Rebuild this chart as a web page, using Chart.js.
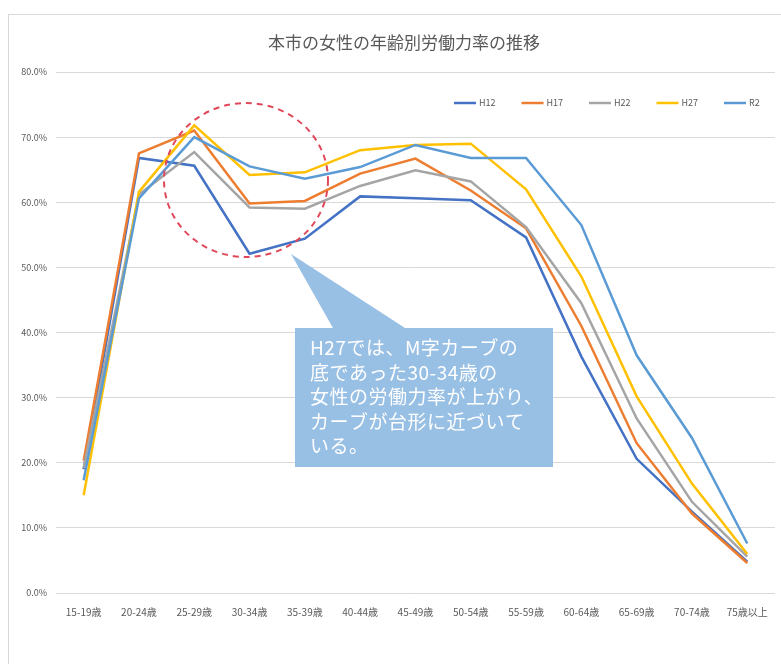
<!DOCTYPE html>
<html>
<head>
<meta charset="utf-8">
<script src="https://cdn.jsdelivr.net/npm/chart.js@4/dist/chart.umd.min.js"></script>
<style>
  html, body { margin: 0; padding: 0; background: #ffffff; }
  #wrap { width: 781px; height: 664px; }
</style>
</head>
<body>
<div id="wrap"><canvas id="chart" width="781" height="664"></canvas></div>
<script>
// 年齢階級
const ageGroups = ['15-19歳', '20-24歳', '25-29歳', '30-34歳', '35-39歳', '40-44歳', '45-49歳',
                   '50-54歳', '55-59歳', '60-64歳', '65-69歳', '70-74歳', '75歳以上'];

// 年次別の女性労働力率（%）
const seriesNames = ['H12', 'H17', 'H22', 'H27', 'R2'];
const rateH12 = [19.0, 66.8, 65.6, 52.1, 54.4, 60.9, 60.6, 60.3, 54.6, 36.3, 20.6, 12.5, 4.8];
const rateH17 = [20.3, 67.5, 71.0, 59.8, 60.2, 64.4, 66.7, 61.8, 56.0, 41.0, 23.0, 12.2, 4.6];
const rateH22 = [19.2, 61.2, 67.7, 59.2, 59.0, 62.5, 64.9, 63.2, 56.2, 44.5, 26.8, 14.0, 5.6];
const rateH27 = [15.0, 61.6, 71.8, 64.2, 64.6, 68.0, 68.8, 69.0, 62.0, 48.6, 30.2, 16.8, 6.0];
const rateR2  = [17.3, 60.6, 70.0, 65.5, 63.6, 65.4, 68.8, 66.8, 66.8, 56.5, 36.5, 23.8, 7.6];

// 縦軸目盛
const yMin = 0;
const yMax = 80;
const yStep = 10;

const chartTitle = '本市の女性の年齢別労働力率の推移';
const noteLines = ['H27では、M字カーブの', '底であった30-34歳の', '女性の労働力率が上がり、', 'カーブが台形に近づいて', 'いる。'];

const seriesColors = ['#4472c4', '#ed7d31', '#a5a5a5', '#ffc000', '#5b9bd5'];
const FONT = '"Noto Sans CJK JP", "Noto Sans", sans-serif';
const TEXT_GRAY = '#595959';
const GRID_GRAY = '#d9d9d9';

const seriesValues = [rateH12, rateH17, rateH22, rateH27, rateR2];
const datasets = seriesNames.map((name, i) => ({
  label: name,
  data: seriesValues[i],
  borderColor: seriesColors[i],
  backgroundColor: seriesColors[i],
  borderWidth: 2.5,
  pointRadius: 0,
  tension: 0,
  fill: false,
  order: seriesNames.length - 1 - i   // 新しい年次を手前に描く
}));

// 枠・タイトル・凡例
const framePlugin = {
  id: 'frame',
  beforeDraw(chart) {
    const ctx = chart.ctx;
    ctx.save();
    ctx.fillStyle = '#ffffff';
    ctx.fillRect(0, 0, chart.width, chart.height);
    ctx.strokeStyle = GRID_GRAY;
    ctx.lineWidth = 1;
    ctx.strokeRect(8.5, 14.5, chart.width + 20, chart.height + 20);
    ctx.fillStyle = TEXT_GRAY;
    ctx.font = '17px ' + FONT;
    ctx.textAlign = 'center';
    ctx.textBaseline = 'middle';
    ctx.fillText(chartTitle, 404, 43);
    ctx.restore();
  },
  afterDraw(chart) {
    const ctx = chart.ctx;
    ctx.save();
    ctx.font = '9px ' + FONT;
    ctx.textBaseline = 'middle';
    ctx.textAlign = 'left';
    const y = 103;
    seriesNames.forEach((name, i) => {
      const x0 = 454 + i * 67.5;
      ctx.strokeStyle = seriesColors[i];
      ctx.lineWidth = 2.5;
      ctx.beginPath();
      ctx.moveTo(x0, y);
      ctx.lineTo(x0 + 22, y);
      ctx.stroke();
      ctx.fillStyle = TEXT_GRAY;
      ctx.fillText(name, x0 + 25, y);
    });
    ctx.restore();
  }
};

// 注記（破線の円と吹き出し）
const notePlugin = {
  id: 'note',
  afterDatasetsDraw(chart) {
    const ctx = chart.ctx;
    ctx.save();
    // 破線の円
    ctx.strokeStyle = '#e0485a';
    ctx.lineWidth = 2;
    ctx.setLineDash([6, 5]);
    ctx.beginPath();
    ctx.ellipse(246, 180, 82, 77, 0, 0, Math.PI * 2);
    ctx.stroke();
    ctx.setLineDash([]);

    // 吹き出し
    ctx.fillStyle = '#98bfe4';
    ctx.beginPath();
    ctx.moveTo(291, 254);
    ctx.lineTo(405, 328);
    ctx.lineTo(553, 328);
    ctx.lineTo(553, 467);
    ctx.lineTo(295, 467);
    ctx.lineTo(295, 328);
    ctx.lineTo(333, 328);
    ctx.closePath();
    ctx.fill();

    ctx.fillStyle = '#ffffff';
    ctx.font = '19px ' + FONT;
    ctx.letterSpacing = '0.5px';
    ctx.textAlign = 'left';
    ctx.textBaseline = 'middle';
    noteLines.forEach((line, i) => {
      ctx.fillText(line, 310, 348 + i * 24.5);
    });
    ctx.restore();
  }
};

new Chart(document.getElementById('chart'), {
  type: 'line',
  data: { labels: ageGroups, datasets },
  options: {
    responsive: false,
    animation: false,
    layout: { padding: { left: 8, top: 72, right: 5, bottom: 0 } },
    plugins: {
      legend: { display: false },
      title: { display: false },
      tooltip: { enabled: false }
    },
    scales: {
      x: {
        offset: true,
        grid: { display: false, drawTicks: false },
        border: { display: true, color: GRID_GRAY, width: 1 },
        ticks: {
          font: { size: 10, family: FONT },
          color: TEXT_GRAY,
          padding: 13,
          maxRotation: 0,
          autoSkip: false
        },
        afterFit(scale) { scale.height = 71; }
      },
      y: {
        min: yMin,
        max: yMax,
        grid: { color: GRID_GRAY, drawTicks: false, lineWidth: 1 },
        border: { display: false },
        ticks: {
          stepSize: yStep,
          font: { size: 9, family: FONT },
          color: TEXT_GRAY,
          padding: 9,
          callback: v => v.toFixed(1) + '%'
        },
        afterFit(scale) { scale.width = 48; }
      }
    }
  },
  plugins: [framePlugin, notePlugin]
});
</script>
</body>
</html>
